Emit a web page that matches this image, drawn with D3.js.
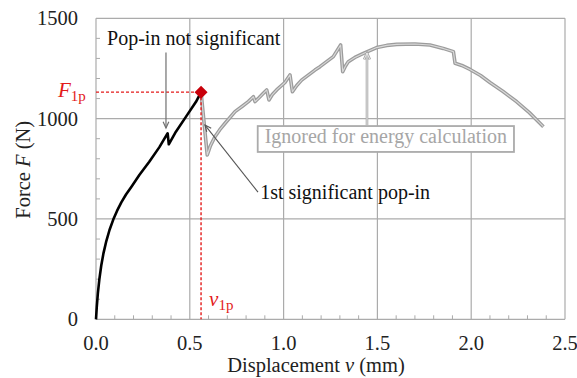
<!DOCTYPE html>
<html><head><meta charset="utf-8">
<script src="https://cdn.jsdelivr.net/npm/d3@7"></script>
<style>
html,body{margin:0;padding:0;background:#fff;}
svg{display:block;font-family:"Liberation Serif","Times New Roman",serif;}
</style></head>
<body>
<svg id="chart" width="577" height="378"></svg>
<script>
// ---- data ----
const xTicks = [0.0, 0.5, 1.0, 1.5, 2.0, 2.5];
const yTicks = [0, 500, 1000, 1500];
const xTickLabels = ["0.0", "0.5", "1.0", "1.5", "2.0", "2.5"];
const yTickLabels = ["0", "500", "1000", "1500"];

// significant part (black)
const blackV = [0, 0.004, 0.010, 0.018, 0.028, 0.040, 0.055, 0.072, 0.092, 0.112, 0.135, 0.160, 0.190, 0.231, 0.284, 0.338, 0.360, 0.382, 0.388, 0.426, 0.480, 0.533, 0.560];
const blackF = [0, 60, 130, 200, 268, 330, 390, 445, 497, 540, 583, 622, 662, 719, 785, 858, 893, 927, 872, 935, 1010, 1084, 1132];

// ignored part (grey)
const greyV = [0.560, 0.593, 0.610, 0.634, 0.660, 0.688, 0.741, 0.780, 0.812, 0.839, 0.848, 0.870, 0.892, 0.910, 0.922, 0.940, 0.963, 1.007, 1.034, 1.047, 1.070, 1.096, 1.167, 1.194, 1.265, 1.304, 1.315, 1.330, 1.345, 1.380, 1.425, 1.496, 1.550, 1.603, 1.700, 1.780, 1.851, 1.905, 1.914, 1.950, 1.994, 2.050, 2.100, 2.170, 2.243, 2.310, 2.385];
const greyF = [1132, 819, 865, 910, 945, 977, 1035, 1062, 1085, 1109, 1085, 1105, 1126, 1143, 1093, 1120, 1143, 1180, 1218, 1134, 1165, 1192, 1242, 1259, 1309, 1367, 1234, 1262, 1284, 1305, 1325, 1354, 1365, 1370, 1372, 1367, 1350, 1334, 1276, 1265, 1245, 1215, 1180, 1135, 1084, 1030, 960];

// first significant pop-in point
const popV = [0.560];
const popF = [1132];

// ---- layout ----
const W = 577, H = 378;
const margin = {left: 96, top: 18.3, right: 12, bottom: 58.7};
const iw = W - margin.left - margin.right, ih = H - margin.top - margin.bottom;

const svg = d3.select("#chart");
const g = svg.append("g").attr("transform", `translate(${margin.left},${margin.top})`);

const x = d3.scaleLinear().domain([0, 2.5]).range([0, iw]);
const y = d3.scaleLinear().domain([0, 1500]).range([ih, 0]);

const gridC = "#ababab";

// gridlines (major)
g.append("g").selectAll("line").data(xTicks).join("line")
  .attr("x1", d => x(d)).attr("x2", d => x(d)).attr("y1", 0).attr("y2", ih)
  .attr("stroke", gridC).attr("stroke-width", 1.2);
g.append("g").selectAll("line").data(yTicks).join("line")
  .attr("y1", d => y(d)).attr("y2", d => y(d)).attr("x1", 0).attr("x2", iw)
  .attr("stroke", gridC).attr("stroke-width", 1.2);

// minor inside ticks
const xMinor = d3.range(0.1, 2.5, 0.1).filter(d => Math.abs(d * 2 - Math.round(d * 2)) > 1e-6);
const yMinor = d3.range(100, 1500, 100).filter(d => d % 500 !== 0);
g.append("g").selectAll("line").data(xMinor).join("line")
  .attr("x1", d => x(d)).attr("x2", d => x(d)).attr("y1", ih).attr("y2", ih - 4)
  .attr("stroke", gridC).attr("stroke-width", 1);
g.append("g").selectAll("line").data(yMinor).join("line")
  .attr("y1", d => y(d)).attr("y2", d => y(d)).attr("x1", 0).attr("x2", 4)
  .attr("stroke", gridC).attr("stroke-width", 1);

// tick labels
g.append("g").selectAll("text").data(xTicks).join("text")
  .attr("x", d => x(d)).attr("y", ih + 31)
  .attr("text-anchor", "middle").attr("font-size", 20.5).attr("fill", "#222")
  .text((d, i) => xTickLabels[i]);
g.append("g").selectAll("text").data(yTicks).join("text")
  .attr("x", -18).attr("y", d => y(d)).attr("dy", "0.35em")
  .attr("text-anchor", "end").attr("font-size", 20.5).attr("fill", "#222")
  .text((d, i) => yTickLabels[i]);

// axis titles
const xt = svg.append("text").attr("x", 316).attr("y", 372)
  .attr("text-anchor", "middle").attr("font-size", 20.5).attr("fill", "#222");
xt.append("tspan").text("Displacement ");
xt.append("tspan").attr("font-style", "italic").text("v");
xt.append("tspan").text(" (mm)");

const yt = svg.append("text")
  .attr("transform", `translate(30,${margin.top + ih / 2 + 1}) rotate(-90)`)
  .attr("text-anchor", "middle").attr("font-size", 20.5).attr("fill", "#222");
yt.append("tspan").text("Force ");
yt.append("tspan").attr("font-style", "italic").text("F");
yt.append("tspan").text(" (N)");

// line generator
const line = d3.line().x(d => x(d[0])).y(d => y(d[1]));
const blackData = blackV.map((v, i) => [v, blackF[i]]);
const greyData = greyV.map((v, i) => [v, greyF[i]]);

// grey ignored curve (outlined style)
g.append("path").datum(greyData).attr("d", line)
  .attr("fill", "none").attr("stroke", "#9c9c9c").attr("stroke-width", 3.6)
  .attr("stroke-linejoin", "round");
g.append("path").datum(greyData).attr("d", line)
  .attr("fill", "none").attr("stroke", "#d9d9d9").attr("stroke-width", 1.1)
  .attr("stroke-linejoin", "round");

// black curve
g.append("path").datum(blackData).attr("d", line)
  .attr("fill", "none").attr("stroke", "#000").attr("stroke-width", 2.6)
  .attr("stroke-linejoin", "round");

// red dashed reference lines
const red = "#e31a1a";
g.append("line").attr("x1", x(0)).attr("x2", x(popV[0])).attr("y1", y(popF[0])).attr("y2", y(popF[0]))
  .attr("stroke", red).attr("stroke-width", 1.4).attr("stroke-dasharray", "3,2");
g.append("line").attr("x1", x(popV[0])).attr("x2", x(popV[0])).attr("y1", y(popF[0])).attr("y2", y(0))
  .attr("stroke", red).attr("stroke-width", 1.4).attr("stroke-dasharray", "3,2");

// diamond marker
g.selectAll(".pop").data(popV.map((v, i) => [v, popF[i]])).join("path")
  .attr("transform", d => `translate(${x(d[0])},${y(d[1])})`)
  .attr("d", "M0,-6.5L6.5,0L0,6.5L-6.5,0Z")
  .attr("fill", "#c8000a");

// labels F1p and v1p
const f1 = g.append("text").attr("x", -38).attr("y", y(popF[0]) + 5).attr("fill", red).attr("font-size", 21);
f1.append("tspan").attr("font-style", "italic").text("F");
f1.append("tspan").attr("font-size", 15).attr("dy", 4).text("1p");
const v1 = g.append("text").attr("x", x(popV[0]) + 8).attr("y", ih - 13).attr("fill", red).attr("font-size", 21);
v1.append("tspan").attr("font-style", "italic").text("v");
v1.append("tspan").attr("font-size", 15).attr("dy", 4).text("1p");

// arrow helper (open V head at end)
function arrow(x1, y1, x2, y2, color, width) {
  const ang = Math.atan2(y2 - y1, x2 - x1);
  const L = 7, a = 0.42;
  const p1 = [x2 - L * Math.cos(ang - a), y2 - L * Math.sin(ang - a)];
  const p2 = [x2 - L * Math.cos(ang + a), y2 - L * Math.sin(ang + a)];
  g.append("line").attr("x1", x1).attr("y1", y1).attr("x2", x2).attr("y2", y2)
    .attr("stroke", color).attr("stroke-width", width);
  g.append("path").attr("d", `M${p1[0]},${p1[1]}L${x2},${y2}L${p2[0]},${p2[1]}`)
    .attr("fill", "none").attr("stroke", color).attr("stroke-width", width);
}

// annotation: pop-in not significant
g.append("text").attr("x", x(0.059)).attr("y", y(1367)).attr("font-size", 20).attr("fill", "#111")
  .text("Pop-in not significant");
arrow(x(0.373), y(1330), x(0.373), y(953), "#707070", 1.2);

// annotation: 1st significant pop-in
g.append("text").attr("x", x(0.875)).attr("y", y(600)).attr("font-size", 20).attr("fill", "#111")
  .text("1st significant pop-in");
arrow(x(0.8635), y(634), x(0.581), y(968), "#555", 1.1);

// annotation: ignored for energy calculation (boxed grey text)
const bx0 = x(0.862), bx1 = x(2.228), by0 = y(963), by1 = y(834);
g.append("rect").attr("x", bx0).attr("y", by0).attr("width", bx1 - bx0).attr("height", by1 - by0)
  .attr("fill", "#fff").attr("stroke", "#ababab").attr("stroke-width", 1.8);
g.append("text").attr("x", (bx0 + bx1) / 2).attr("y", y(877)).attr("text-anchor", "middle")
  .attr("font-size", 20).attr("fill", "#a6a6a6").text("Ignored for energy calculation");
// outlined arrow up
(function () {
  const ax = x(1.4445), yb = by0 - 1, yt2 = y(1327);
  arrow(ax, yb, ax, yt2, "#a8a8a8", 2.6);
  arrow(ax, yb, ax, yt2, "#f2f2f2", 0.8);
})();
</script>
</body></html>
